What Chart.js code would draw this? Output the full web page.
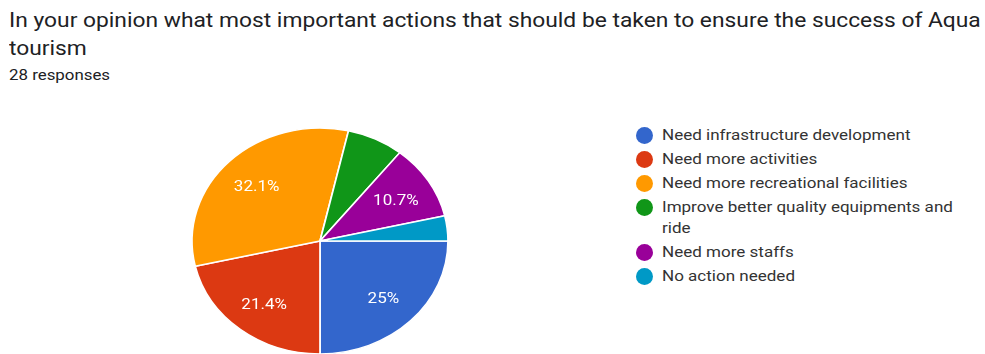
<!DOCTYPE html>
<html>
<head>
<meta charset="utf-8">
<script src="https://cdn.jsdelivr.net/npm/chart.js@4.4.1/dist/chart.umd.min.js"></script>
<style>
  html, body { margin: 0; padding: 0; background: #fff; }
  body { width: 985px; height: 354px; overflow: hidden; position: relative; font-family: Roboto, Arial, sans-serif; }
  #title { position: absolute; left: 9px; top: 6px; font-size: 20px; line-height: 28px; color: #202124; white-space: nowrap; transform: scaleX(1.14); transform-origin: 0 0; }
  #sub { position: absolute; left: 9px; top: 65px; font-size: 15px; line-height: 20px; color: #202124; transform: scaleX(1.124); transform-origin: 0 0; }
  #pie { position: absolute; left: 160px; top: 121px; width: 320px; height: 240px; }
  #legend { position: absolute; left: 636px; top: 125px; margin: 0; padding: 0; list-style: none; }
  #legend li { position: relative; padding-left: 26px; font-size: 15px; line-height: 21px; color: #333; margin-bottom: 3px; }
  #legend li span.dot { position: absolute; left: 0; top: 2px; width: 17px; height: 17px; border-radius: 50%; }
  #legend li span.txt { display: inline-block; width: 268px; transform: scaleX(1.135); transform-origin: 0 0; }
</style>
</head>
<body>
<div id="title"></div>
<div id="sub"></div>
<div id="pie"><canvas id="chart"></canvas></div>
<ul id="legend"></ul>
<script>
const titleLines = ['In your opinion what most important actions that should be taken to ensure the success of Aqua', 'tourism']
const responses  = 28

const labels = [
  'Need infrastructure development',
  'Need more activities',
  'Need more recreational facilities',
  'Improve better quality equipments and ride',
  'Need more staffs',
  'No action needed',
]
const counts = [7, 6, 9, 2, 3, 1]
const colors = ['#3366cc', '#dc3912', '#ff9900', '#109618', '#990099', '#0099c6']

document.getElementById('title').innerHTML = titleLines.join('<br>')
document.getElementById('sub').textContent = responses + ' responses'

const legend = document.getElementById('legend')
labels.forEach((name, i) => {
  const li  = document.createElement('li')
  const dot = document.createElement('span')
  const txt = document.createElement('span')
  dot.className = 'dot'
  dot.style.background = colors[i]
  txt.className = 'txt'
  txt.textContent = name
  li.appendChild(dot)
  li.appendChild(txt)
  legend.appendChild(li)
})

// the pie and its labels are drawn slightly wider than tall
const STRETCH_X = 128 / 113

const fmtPct = v => {
  const p = Math.round(v * 1000) / 10
  return (p % 1 === 0 ? p.toFixed(0) : p.toFixed(1)) + '%'
}

const ovalPie = {
  id: 'ovalPie',
  beforeDatasetsDraw(chart) {
    const arc = chart.getDatasetMeta(0).data[0]
    const { ctx } = chart
    ctx.save()
    ctx.translate(arc.x, arc.y)
    ctx.scale(STRETCH_X, 1)
    ctx.translate(-arc.x, -arc.y)
  },
  afterDatasetsDraw(chart) {
    const { ctx } = chart
    ctx.restore()

    const total = counts.reduce((a, b) => a + b, 0)
    chart.getDatasetMeta(0).data.forEach((el, i) => {
      const share = counts[i] / total
      if (share < 0.1) return
      const { x, y, startAngle, endAngle, outerRadius } = el.getProps(['x', 'y', 'startAngle', 'endAngle', 'outerRadius'], true)
      const mid = (startAngle + endAngle) / 2
      const r   = outerRadius * 0.7
      ctx.save()
      ctx.translate(x + Math.cos(mid) * r * STRETCH_X, y + Math.sin(mid) * r + 2)
      ctx.scale(STRETCH_X, 1)
      ctx.fillStyle = '#fff'
      ctx.font = '15px Roboto, Arial, sans-serif'
      ctx.textAlign = 'center'
      ctx.textBaseline = 'middle'
      ctx.fillText(fmtPct(share), 0, 0)
      ctx.restore()
    })
  },
}

new Chart(document.getElementById('chart'), {
  type: 'pie',
  data: {
    labels,
    datasets: [{
      data: counts,
      backgroundColor: colors,
      borderColor: '#fff',
      borderWidth: 1.5,
      radius: 113,
    }],
  },
  options: {
    responsive: true,
    maintainAspectRatio: false,
    animation: false,
    events: [],
    rotation: 90,
    plugins: {
      legend: { display: false },
      tooltip: { enabled: false },
    },
  },
  plugins: [ovalPie],
})
</script>
</body>
</html>
